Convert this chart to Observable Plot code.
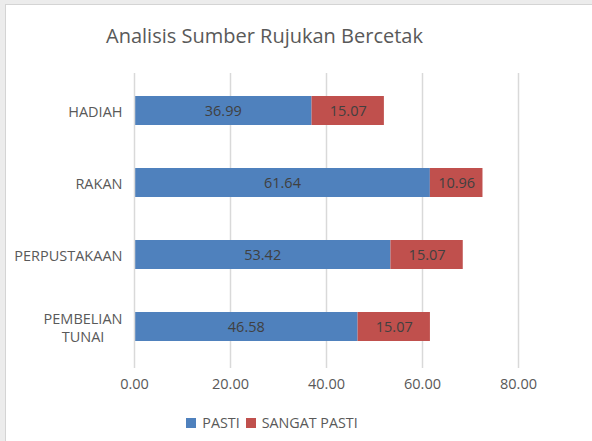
<!DOCTYPE html>
<html>
<head>
<meta charset="utf-8">
<script src="https://cdn.jsdelivr.net/npm/d3@7"></script>
<script src="https://cdn.jsdelivr.net/npm/@observablehq/plot@0.6"></script>
<style>
  html, body { margin: 0; padding: 0; }
  body { width: 592px; height: 441px; background: #ececec; position: relative; overflow: hidden; font-family: "Open Sans", sans-serif; }
  #frame { position: absolute; left: 5px; top: 4px; right: -2px; bottom: -2px; background: #fff; border-left: 1px solid #d4d4d4; border-top: 1px solid #d4d4d4; }
  #title { position: absolute; left: 0; width: 529px; top: 22px; text-align: center; font-size: 20px; color: #595959; line-height: 28px; white-space: nowrap; }
  #chart { position: absolute; left: 0; top: 60px; }
  #legend { position: absolute; left: 0; width: 544px; top: 413px; text-align: center; font-size: 14.3px; color: #595959; line-height: 20px; white-space: nowrap; }
  #legend span.sw { display: inline-block; width: 10px; height: 10px; margin-right: 6px; }
  #legend span.item { margin: 0 3px; }
</style>
</head>
<body>
<div id="frame"></div>
<div id="title">Analisis Sumber Rujukan Bercetak</div>
<div id="chart"></div>
<div id="legend"></div>
<script>
const categories = ["HADIAH", "RAKAN", "PERPUSTAKAAN", "PEMBELIAN TUNAI"];
const seriesNames = ["PASTI", "SANGAT PASTI"];
const pasti = [36.99, 61.64, 53.42, 46.58];
const sangatPasti = [15.07, 10.96, 15.07, 15.07];
const xTicks = [0, 20, 40, 60, 80];
const colors = ["#4f81bd", "#c0504d"];

const data = [];
categories.forEach((c, i) => {
  data.push({cat: c, series: seriesNames[0], value: pasti[i]});
  data.push({cat: c, series: seriesNames[1], value: sangatPasti[i]});
});

const labelLines = {"PEMBELIAN TUNAI": "PEMBELIAN\nTUNAI"};

const plot = Plot.plot({
  width: 592,
  height: 340,
  marginLeft: 134,
  marginRight: 74,
  marginTop: 13,
  marginBottom: 37,
  style: {fontFamily: "Open Sans, sans-serif", background: "transparent"},
  x: {domain: [0, 80], ticks: xTicks, tickFormat: d => d.toFixed(2), label: null},
  y: {domain: categories, paddingInner: 0.6, paddingOuter: 0.3, label: null},
  color: {domain: seriesNames, range: colors},
  marks: [
    Plot.gridX(xTicks.slice(1), {stroke: "#d9d9d9", strokeOpacity: 1, strokeWidth: 1.5}),
    Plot.axisX({ticks: xTicks, tickFormat: d => d.toFixed(2), tickSize: 5, tickPadding: 10, stroke: "#d9d9d9", strokeWidth: 1.5, fontSize: 14.5, color: "#595959", label: null}),
    Plot.axisY({tickSize: 0, tickPadding: 12, fontSize: 14.5, color: "#595959", label: null, tickFormat: d => labelLines[d] || d, lineHeight: 1.3}),
    Plot.barX(data, Plot.stackX({y: "cat", x: "value", fill: "series", order: null})),
    Plot.ruleX([0], {stroke: "#d9d9d9", strokeWidth: 1.5}),
    Plot.text(data, Plot.stackX({y: "cat", x: "value", z: "series", order: null, text: d => d.value.toFixed(2), fill: "#404040", fontSize: 14.5}))
  ]
});
document.getElementById("chart").appendChild(plot);

// center the two-line category label like the reference
plot.querySelectorAll("g[aria-label='y-axis tick label'] text").forEach(t => {
  const spans = t.querySelectorAll("tspan");
  if (spans.length > 1) {
    let w = 0;
    spans.forEach(s => { w = Math.max(w, s.getComputedTextLength()); });
    t.setAttribute("text-anchor", "middle");
    const tr = t.getAttribute("transform") || "";
    t.setAttribute("transform", tr + ` translate(${-w / 2},0)`);
  }
});

const legend = document.getElementById("legend");
seriesNames.forEach((s, i) => {
  const item = document.createElement("span");
  item.className = "item";
  const sw = document.createElement("span");
  sw.className = "sw";
  sw.style.background = colors[i];
  item.appendChild(sw);
  item.appendChild(document.createTextNode(s));
  legend.appendChild(item);
});
</script>
</body>
</html>
